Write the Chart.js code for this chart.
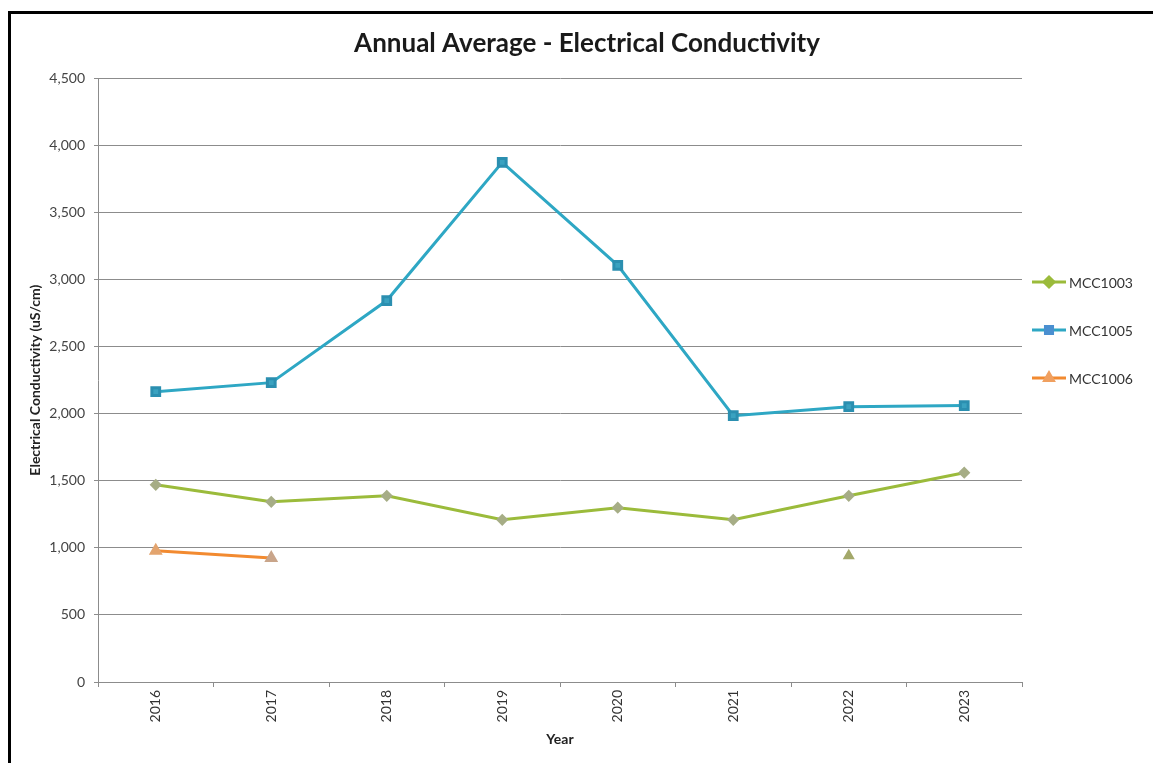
<!DOCTYPE html>
<html>
<head>
<meta charset="utf-8">
<script src="https://cdn.jsdelivr.net/npm/chart.js@4"></script>
<style>
  body { margin: 0; background: #fff; }
  #frame { position: absolute; left: 8px; top: 11px; width: 1200px; height: 800px; border-left: 3px solid #000; border-top: 3px solid #000; }
  #wrap { position: absolute; left: 0; top: 0; width: 1153px; height: 763px; }
</style>
</head>
<body>
<div id="frame"></div>
<div id="wrap"><canvas id="chart"></canvas></div>
<script>
// annual averages
const years = ["2016", "2017", "2018", "2019", "2020", "2021", "2022", "2023"];
const mcc1003 = [1470, 1343, 1388, 1209, 1299, 1209, 1388, 1560];
const mcc1005 = [2164, 2231, 2843, 3873, 3105, 1985, 2052, 2060];
const mcc1006 = [978, 925, null, null, null, null, 940, null];
const yTicks = [0, 500, 1000, 1500, 2000, 2500, 3000, 3500, 4000, 4500];

const FONT = "Lato, 'Open Sans', sans-serif";

// Excel-ish legend: line with marker, drawn in the space right of the plot
const sideLegend = {
  id: "sideLegend",
  afterDraw(chart) {
    const ctx = chart.ctx;
    const x0 = 1032, x1 = 1066;
    const ys = [282, 330, 378];
    chart.data.datasets.forEach((ds, i) => {
      const y = ys[i];
      ctx.save();
      ctx.strokeStyle = ds.borderColor;
      ctx.lineWidth = 3;
      ctx.beginPath();
      ctx.moveTo(x0, y);
      ctx.lineTo(x1, y);
      ctx.stroke();
      ctx.fillStyle = ds.legendMarker;
      ctx.strokeStyle = ds.legendMarker;
      Chart.helpers.drawPoint(ctx, {
        pointStyle: ds.pointStyle,
        radius: 5,
        borderWidth: 1
      }, (x0 + x1) / 2, y);
      ctx.fillStyle = "#333";
      ctx.font = "14px " + FONT;
      ctx.textBaseline = "middle";
      ctx.fillText(ds.label, 1069, y + 1);
      ctx.restore();
    });
  }
};

const ctx = document.getElementById("chart").getContext("2d");
new Chart(ctx, {
  type: "line",
  data: {
    labels: years,
    datasets: [
      {
        label: "MCC1003",
        data: mcc1003,
        borderColor: "#9bbb3b",
        legendMarker: "#9bbb3b",
        pointBackgroundColor: "#a6ad86",
        pointBorderColor: "#a6ad86",
        borderWidth: 3,
        pointStyle: "rectRot",
        pointRadius: 4,
        tension: 0
      },
      {
        label: "MCC1005",
        data: mcc1005,
        borderColor: "#2ea7c4",
        legendMarker: "#4a8fd0",
        pointBackgroundColor: "#3aa2c0",
        pointBorderColor: "#2b8fb0",
        borderWidth: 3,
        pointStyle: "rect",
        pointRadius: 5.5,
        tension: 0
      },
      {
        label: "MCC1006",
        data: mcc1006,
        borderColor: "#f28a30",
        legendMarker: "#f0a060",
        pointBackgroundColor: ["#e3a46e", "#c9a58a", null, null, null, null, "#a3a86a", null],
        pointBorderColor: ["#e3a46e", "#c9a58a", null, null, null, null, "#a3a86a", null],
        borderWidth: 3,
        pointStyle: "triangle",
        pointRadius: [5, 5, 0, 0, 0, 0, 4, 0],
        spanGaps: false,
        tension: 0
      }
    ]
  },
  options: {
    responsive: true,
    maintainAspectRatio: false,
    animation: false,
    layout: { padding: { left: 27, right: 6, top: 28, bottom: 14 } },
    plugins: {
      legend: { display: false },
      tooltip: { enabled: false },
      title: {
        display: true,
        text: "Annual Average - Electrical Conductivity",
        color: "#1a1a1a",
        font: { family: FONT, size: 26, weight: "bold" },
        padding: { top: 0, bottom: 19 }
      }
    },
    scales: {
      x: {
        offset: true,
        grid: { drawOnChartArea: false, drawTicks: true, tickLength: 5, color: "#8c8c8c", offset: true },
        border: { color: "#8c8c8c", width: 1 },
        ticks: {
          color: "#333",
          font: { family: FONT, size: 14 },
          minRotation: 90,
          maxRotation: 90,
          padding: 3
        },
        title: {
          display: true,
          text: "Year",
          color: "#222",
          font: { family: FONT, size: 14, weight: "bold" },
          padding: { top: 0, bottom: 1 }
        },
        afterFit(scale) { scale.height = 67; }
      },
      y: {
        min: 0,
        max: 4500,
        afterBuildTicks(scale) { scale.ticks = yTicks.map(v => ({ value: v })); },
        grid: { color: "#8c8c8c", lineWidth: 1, tickLength: 4 },
        border: { color: "#8c8c8c", width: 1 },
        ticks: {
          color: "#444",
          font: { family: FONT, size: 14 },
          padding: 9,
          callback: v => v.toLocaleString("en-US")
        },
        title: {
          display: true,
          text: "Electrical Conductivity (uS/cm)",
          color: "#222",
          font: { family: FONT, size: 14, weight: "bold" },
          padding: { top: 0, bottom: 0 }
        },
        afterFit(scale) { scale.width = 71; }
      },
      // empty right-hand axis that only reserves room for the legend
      side: {
        position: "right",
        min: 0,
        max: 1,
        grid: { display: false },
        border: { display: false },
        ticks: { display: false },
        afterFit(scale) { scale.width = 125; }
      }
    }
  },
  plugins: [sideLegend]
});
</script>
</body>
</html>
